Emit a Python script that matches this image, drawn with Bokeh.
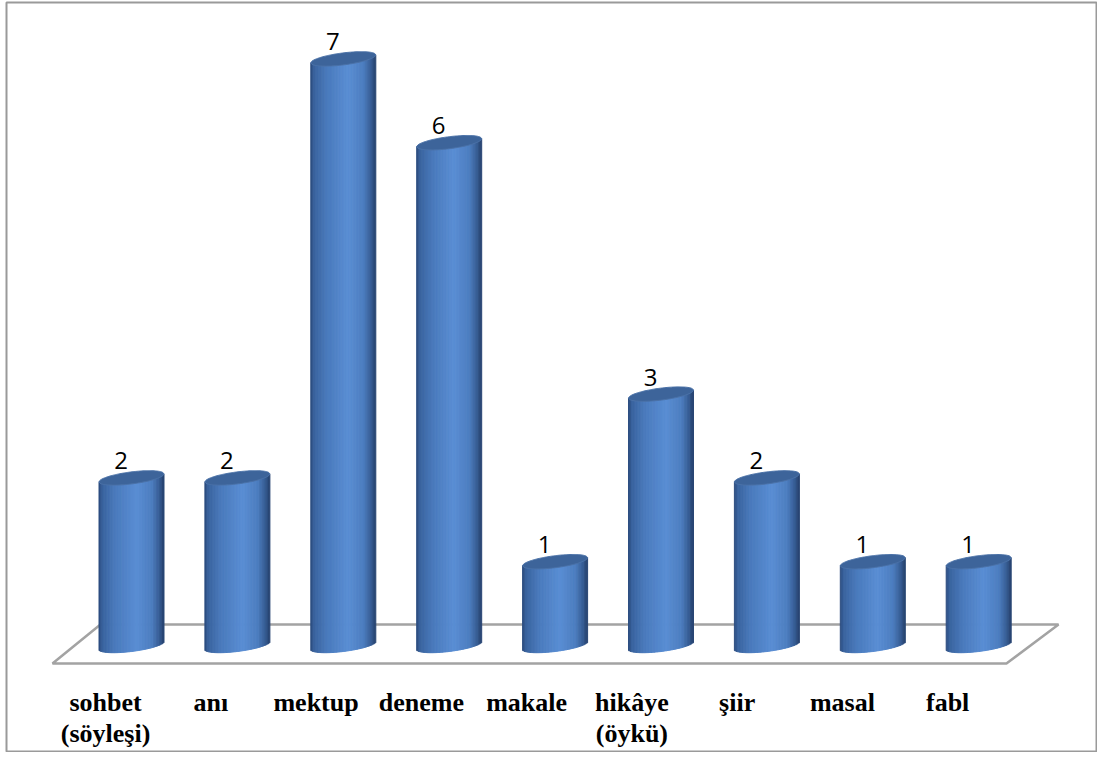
import numpy as np
from bokeh.plotting import figure
from bokeh.models import Range1d, ColumnDataSource
from bokeh.core.properties import value
from bokeh.embed import file_html
from bokeh.resources import INLINE

# ---- data ----
categories_line1 = ["sohbet", "anı", "mektup", "deneme", "makale", "hikâye", "şiir", "masal", "fabl"]
categories_line2 = ["(söyleşi)", "", "", "", "", "(öykü)", "", "", ""]
values = [2, 2, 7, 6, 1, 3, 2, 1, 1]
value_labels = [str(v) for v in values]

n = len(values)
xs = np.arange(n)

W, H = 1097, 752
BL, BT = 6, 2                  # left / top border
FW, FH = W - BL, H - BT        # frame size
XU, YU = 105.9, 83.8           # pixels per data unit
x0 = -(131 - BL) / XU
y0 = -(FH - (645 - BT)) / YU

p = figure(width=W, height=H, output_backend="svg", toolbar_location=None,
           x_range=Range1d(x0, x0 + FW / XU), y_range=Range1d(y0, y0 + FH / YU),
           min_border_left=BL, min_border_top=BT, min_border_right=0, min_border_bottom=0,
           background_fill_color="white", border_fill_color="white")
p.axis.visible = False
p.grid.visible = False
p.outline_line_color = "#9a9a9a"
p.outline_line_width = 2

# ---- floor ----
p.patch(x=[-0.746, n - 1 + 0.262, n - 1 + 0.754, -0.293],
        y=[-0.215, -0.215, 0.251, 0.251],
        fill_color="white", line_color="#a3a3a3", line_width=2.5)

# ---- cylinders ----
hw = 32.5 / XU
eh = 6 / YU
tilt = 4 / YU
NS = 44
stops_t = [0.0, 0.06, 0.25, 0.58, 0.82, 0.94, 1.0]
stops_c = [(0x2a, 0x4a, 0x7a), (0x3a, 0x64, 0x9f), (0x4a, 0x7a, 0xbc),
           (0x5a, 0x8e, 0xd4), (0x4d, 0x7e, 0xc0), (0x36, 0x5c, 0x92), (0x26, 0x42, 0x6e)]
stops_c = np.array(stops_c, dtype=float)

def grad(t):
    r = np.interp(t, stops_t, stops_c[:, 0])
    g = np.interp(t, stops_t, stops_c[:, 1])
    b = np.interp(t, stops_t, stops_c[:, 2])
    return "#%02x%02x%02x" % (int(r), int(g), int(b))

L, R, B, T, C = [], [], [], [], []
for i, v in zip(xs, values):
    for j in range(NS):
        tl = -1 + 2 * j / NS
        tr = -1 + 2 * (j + 1) / NS
        tm = (tl + tr) / 2
        L.append(i + hw * tl)
        R.append(i + hw * tr)
        B.append(tilt * tm - eh * np.sqrt(max(0.0, 1 - tm * tm)))
        T.append(v + tilt * tm)
        C.append(grad((tm + 1) / 2))
p.quad(left="l", right="r", bottom="b", top="t", fill_color="c", line_color="c",
       line_width=1.0, source=ColumnDataSource(dict(l=L, r=R, b=B, t=T, c=C)))

tt = np.linspace(-1, 1, 60)
top_xs, top_ys = [], []
for i, v in zip(xs, values):
    upper = v + tilt * tt + eh * np.sqrt(1 - tt ** 2)
    lower = v + tilt * tt[::-1] - eh * np.sqrt(1 - tt[::-1] ** 2)
    top_xs.append(list(i + hw * tt) + list(i + hw * tt[::-1]))
    top_ys.append(list(upper) + list(lower))
p.patches(xs=top_xs, ys=top_ys, fill_color="#3d649a", line_color="#4b72a8", line_width=1)

# ---- value labels ----
p.text(x=xs - 10.5 / XU, y=np.array(values) + 17 / YU, text=value_labels,
       text_font=value("Open Sans"), text_font_size="24px", text_color="black",
       text_align="center", text_baseline="alphabetic")

# ---- category labels ----
serif = value("Liberation Serif")
lx = xs - 0.245 - 0.006 * xs
p.text(x=lx, y=[-0.68] * n, text=categories_line1,
       text_font=serif, text_font_size="26px", text_font_style="bold",
       text_color="black", text_align="center", text_baseline="alphabetic")
p.text(x=lx, y=[-1.05] * n, text=categories_line2,
       text_font=serif, text_font_size="26px", text_font_style="bold",
       text_color="black", text_align="center", text_baseline="alphabetic")

open("out.html", "w").write(file_html(p, INLINE))
